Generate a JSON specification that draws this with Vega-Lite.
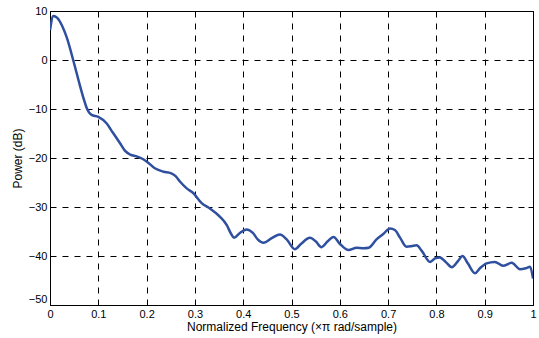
{
  "$schema": "https://vega.github.io/schema/vega-lite/v6.json",
  "width": 483,
  "height": 294,
  "autosize": {"type": "none"},
  "padding": {"left": 50, "top": 11, "right": 6, "bottom": 33},
  "background": "white",
  "config": {
    "view": {"stroke": "black", "strokeWidth": 1},
    "axis": {
      "labelFont": "Liberation Sans",
      "titleFont": "Liberation Sans",
      "labelFontSize": 11,
      "titleFontSize": 12,
      "titleFontWeight": "normal",
      "labelColor": "black",
      "titleColor": "black",
      "domain": false,
      "tickColor": "black",
      "tickSize": -5,
      "gridColor": "black",
      "gridDash": [6, 6],
      "gridOpacity": 1,
      "gridWidth": 1
    }
  },
  "data": {
    "values": [
      {"f": 0, "p": 6.1},
      {"f": 0.007, "p": 9.0},
      {"f": 0.015, "p": 8.6},
      {"f": 0.025, "p": 7},
      {"f": 0.035, "p": 4.5},
      {"f": 0.048, "p": 0},
      {"f": 0.06, "p": -4.5},
      {"f": 0.07, "p": -8},
      {"f": 0.076, "p": -9.8},
      {"f": 0.086, "p": -11.2},
      {"f": 0.1, "p": -11.6},
      {"f": 0.117, "p": -12.9},
      {"f": 0.13, "p": -14.8},
      {"f": 0.145, "p": -17},
      {"f": 0.155, "p": -18.5},
      {"f": 0.166, "p": -19.3},
      {"f": 0.18, "p": -19.7},
      {"f": 0.19, "p": -20.1},
      {"f": 0.2, "p": -20.7},
      {"f": 0.217, "p": -22.1},
      {"f": 0.235, "p": -22.8},
      {"f": 0.25, "p": -23.1},
      {"f": 0.26, "p": -23.7},
      {"f": 0.269, "p": -24.8},
      {"f": 0.283, "p": -26.2},
      {"f": 0.297, "p": -27.2},
      {"f": 0.314, "p": -29.2},
      {"f": 0.331, "p": -30.3},
      {"f": 0.352, "p": -32.0},
      {"f": 0.366, "p": -33.7},
      {"f": 0.375, "p": -35.5},
      {"f": 0.381, "p": -36.3},
      {"f": 0.393, "p": -35.3},
      {"f": 0.407, "p": -34.6},
      {"f": 0.42, "p": -35.3},
      {"f": 0.43, "p": -36.6},
      {"f": 0.442, "p": -37.3},
      {"f": 0.46, "p": -36.3},
      {"f": 0.476, "p": -35.6},
      {"f": 0.49, "p": -36.6},
      {"f": 0.507, "p": -38.6},
      {"f": 0.52, "p": -37.5},
      {"f": 0.538, "p": -36.3},
      {"f": 0.55, "p": -37.0},
      {"f": 0.562, "p": -38.2},
      {"f": 0.575, "p": -37.0},
      {"f": 0.587, "p": -36.1},
      {"f": 0.6, "p": -37.5},
      {"f": 0.618, "p": -38.8},
      {"f": 0.635, "p": -38.3},
      {"f": 0.649, "p": -38.4},
      {"f": 0.66, "p": -38.3},
      {"f": 0.676, "p": -36.6},
      {"f": 0.69, "p": -35.5},
      {"f": 0.704, "p": -34.4},
      {"f": 0.714, "p": -34.7},
      {"f": 0.725, "p": -36.3},
      {"f": 0.738, "p": -38.1},
      {"f": 0.748, "p": -38.0},
      {"f": 0.759, "p": -37.8},
      {"f": 0.77, "p": -39.0},
      {"f": 0.787, "p": -41.2},
      {"f": 0.797, "p": -40.5},
      {"f": 0.807, "p": -40.3},
      {"f": 0.82, "p": -41.3},
      {"f": 0.832, "p": -42.3},
      {"f": 0.845, "p": -41.0},
      {"f": 0.854, "p": -40.0},
      {"f": 0.865, "p": -41.5},
      {"f": 0.88, "p": -43.5},
      {"f": 0.89, "p": -42.5},
      {"f": 0.904, "p": -41.5},
      {"f": 0.921, "p": -41.2},
      {"f": 0.938, "p": -42.0},
      {"f": 0.956, "p": -41.4},
      {"f": 0.973, "p": -42.7},
      {"f": 0.985, "p": -42.5},
      {"f": 0.994, "p": -42.2},
      {"f": 1.0, "p": -44.6}
    ]
  },
  "layer": [
    {
      "mark": {"type": "line", "color": "#2f4f9f", "strokeWidth": 2.5, "interpolate": "monotone", "clip": true},
      "encoding": {
        "x": {
          "field": "f", "type": "quantitative",
          "scale": {"domain": [0, 1], "nice": false, "zero": false},
          "axis": {
            "title": "Normalized Frequency  (\u00d7\u03c0 rad/sample)",
            "values": [0, 0.1, 0.2, 0.3, 0.4, 0.5, 0.6, 0.7, 0.8, 0.9, 1],
            "format": "~g",
            "grid": true,
            "labelPadding": 8,
            "titlePadding": 2,
            "labelFlush": false
          }
        },
        "y": {
          "field": "p", "type": "quantitative",
          "scale": {"domain": [-50, 10], "nice": false, "zero": false},
          "axis": {
            "title": "Power (dB)",
            "values": [-50, -40, -30, -20, -10, 0, 10],
            "grid": true,
            "labelPadding": 8,
            "titlePadding": 4,
            "labelFlush": false,
            "labelOffset": {"condition": {"test": "datum.value === -50", "value": -6}, "value": 0}
          }
        }
      }
    },
    {
      "mark": {"type": "line", "strokeOpacity": 0},
      "encoding": {
        "x": {
          "field": "f", "type": "quantitative",
          "scale": {"domain": [0, 1], "nice": false, "zero": false},
          "axis": {"orient": "top", "labels": false, "title": null, "grid": false,
                   "values": [0, 0.1, 0.2, 0.3, 0.4, 0.5, 0.6, 0.7, 0.8, 0.9, 1]}
        },
        "y": {
          "field": "p", "type": "quantitative",
          "scale": {"domain": [-50, 10], "nice": false, "zero": false},
          "axis": {"orient": "right", "labels": false, "title": null, "grid": false,
                   "values": [-50, -40, -30, -20, -10, 0, 10]}
        }
      }
    }
  ],
  "resolve": {"axis": {"x": "independent", "y": "independent"}}
}
